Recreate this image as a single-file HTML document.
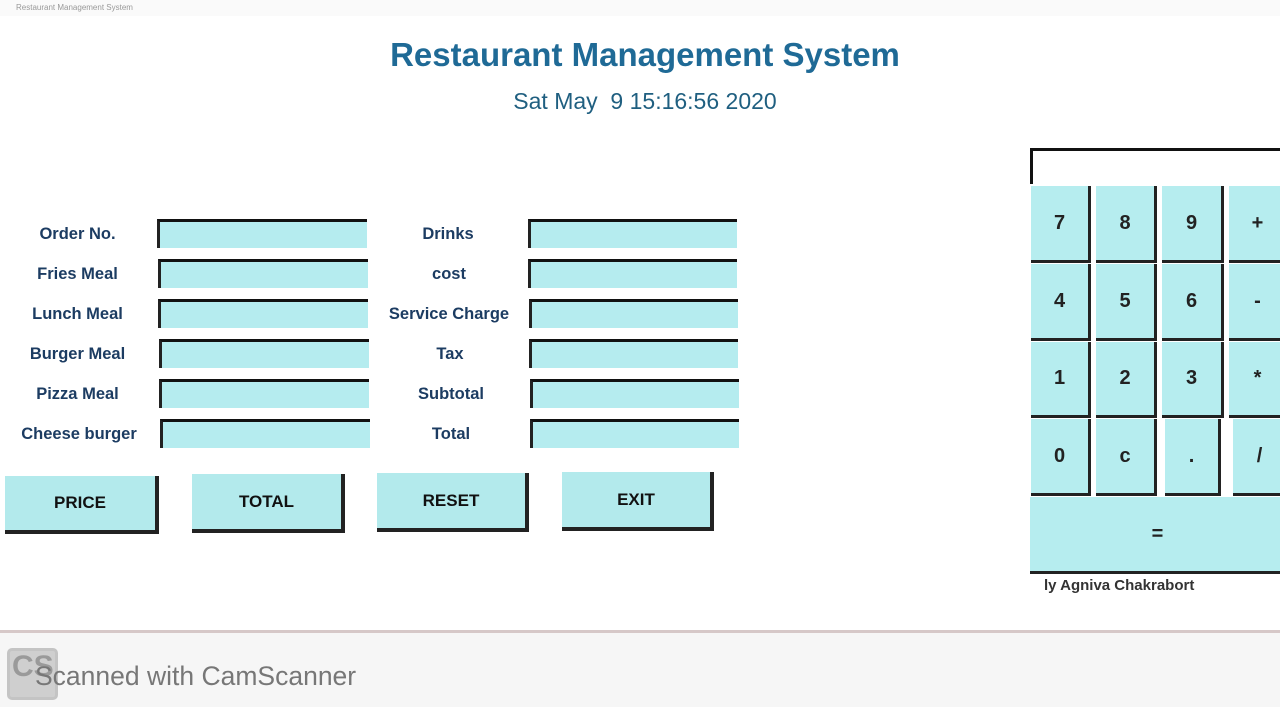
<!DOCTYPE html>
<html><head><meta charset="utf-8"><style>
body{margin:0;width:1280px;height:707px;background:#fff;position:relative;overflow:hidden;font-family:"Liberation Sans",Arial,sans-serif}
div{position:absolute;box-sizing:border-box}
.t{color:#1c3c62;font-weight:bold;font-size:16.5px;text-align:center;white-space:nowrap}
.e{background:#b5ecef;border-top:3px solid #111;border-left:3px solid #222;height:29px}
.b{background:#b3eaec;border-right:4px solid #222;border-bottom:4px solid #222;font-weight:bold;font-size:17px;color:#111;display:flex;align-items:center;justify-content:center}
.k{background:#b6edef;border-right:3px solid #222;border-bottom:3px solid #222;font-weight:bold;font-size:20px;color:#222;display:flex;align-items:center;justify-content:center}
</style></head><body>
<div style="left:0;top:0;width:1280px;height:16px;background:#fafafa;font-size:8px;color:#999;padding:3px 0 0 16px">Restaurant Management System</div>
<div style="left:0;top:36px;width:1290px;text-align:center;font-size:33px;font-weight:bold;color:#1f6a96">Restaurant Management System</div>
<div style="left:0;top:88px;width:1290px;text-align:center;font-size:23px;color:#1f5f80;white-space:pre">Sat May  9 15:16:56 2020</div>

<div class="t" style="left:0;top:225px;width:155px">Order No.</div>
<div class="t" style="left:0;top:265px;width:155px">Fries Meal</div>
<div class="t" style="left:0;top:305px;width:155px">Lunch Meal</div>
<div class="t" style="left:0;top:345px;width:155px">Burger Meal</div>
<div class="t" style="left:0;top:385px;width:155px">Pizza Meal</div>
<div class="t" style="left:0;top:425px;width:158px">Cheese burger</div>
<div class="e" style="left:157px;top:219px;width:210px"></div>
<div class="e" style="left:158px;top:259px;width:210px"></div>
<div class="e" style="left:158px;top:299px;width:210px"></div>
<div class="e" style="left:159px;top:339px;width:210px"></div>
<div class="e" style="left:159px;top:379px;width:210px"></div>
<div class="e" style="left:160px;top:419px;width:210px"></div>

<div class="t" style="left:370px;top:225px;width:156px">Drinks</div>
<div class="t" style="left:370px;top:265px;width:158px">cost</div>
<div class="t" style="left:370px;top:305px;width:158px">Service Charge</div>
<div class="t" style="left:370px;top:345px;width:160px">Tax</div>
<div class="t" style="left:370px;top:385px;width:162px">Subtotal</div>
<div class="t" style="left:370px;top:425px;width:162px">Total</div>
<div class="e" style="left:528px;top:219px;width:209px"></div>
<div class="e" style="left:528px;top:259px;width:209px"></div>
<div class="e" style="left:529px;top:299px;width:209px"></div>
<div class="e" style="left:529px;top:339px;width:209px"></div>
<div class="e" style="left:530px;top:379px;width:209px"></div>
<div class="e" style="left:530px;top:419px;width:209px"></div>

<div class="b" style="left:5px;top:476px;width:154px;height:58px">PRICE</div>
<div class="b" style="left:192px;top:474px;width:153px;height:59px">TOTAL</div>
<div class="b" style="left:377px;top:473px;width:152px;height:59px">RESET</div>
<div class="b" style="left:562px;top:472px;width:152px;height:59px">EXIT</div>

<div style="left:1030px;top:148px;width:250px;height:36px;border-top:3px solid #111;border-left:3px solid #111"></div>
<div class="k" style="left:1031px;top:186px;width:60px;height:77px">7</div>
<div class="k" style="left:1096px;top:186px;width:61px;height:77px">8</div>
<div class="k" style="left:1162px;top:186px;width:62px;height:77px">9</div>
<div class="k" style="left:1229px;top:186px;width:60px;height:77px">+</div>
<div class="k" style="left:1031px;top:264px;width:60px;height:77px">4</div>
<div class="k" style="left:1096px;top:264px;width:61px;height:77px">5</div>
<div class="k" style="left:1162px;top:264px;width:62px;height:77px">6</div>
<div class="k" style="left:1229px;top:264px;width:60px;height:77px">-</div>
<div class="k" style="left:1031px;top:342px;width:60px;height:76px">1</div>
<div class="k" style="left:1096px;top:342px;width:61px;height:76px">2</div>
<div class="k" style="left:1162px;top:342px;width:62px;height:76px">3</div>
<div class="k" style="left:1229px;top:342px;width:60px;height:76px">*</div>
<div class="k" style="left:1031px;top:419px;width:60px;height:77px">0</div>
<div class="k" style="left:1096px;top:419px;width:61px;height:77px">c</div>
<div class="k" style="left:1165px;top:419px;width:56px;height:77px">.</div>
<div class="k" style="left:1233px;top:419px;width:56px;height:77px">/</div>
<div class="k" style="left:1030px;top:497px;width:260px;height:77px;padding-right:2px">=</div>
<div style="left:1044px;top:577px;font-size:15px;font-weight:bold;color:#333">ly Agniva Chakrabort</div>

<div style="left:0;top:630px;width:1280px;height:3px;background:#d6c8c8"></div>
<div style="left:0;top:633px;width:1280px;height:74px;background:#f6f6f6"></div>
<div style="left:7px;top:648px;width:51px;height:52px;background:#cfcfcf;border-radius:5px;border:3px solid #c4c4c4"></div>
<div style="left:12px;top:650px;font-size:30px;font-weight:bold;color:#9a9a9a">CS</div>
<div style="left:35px;top:661px;font-size:26.5px;color:#777">Scanned with CamScanner</div>
</body></html>
